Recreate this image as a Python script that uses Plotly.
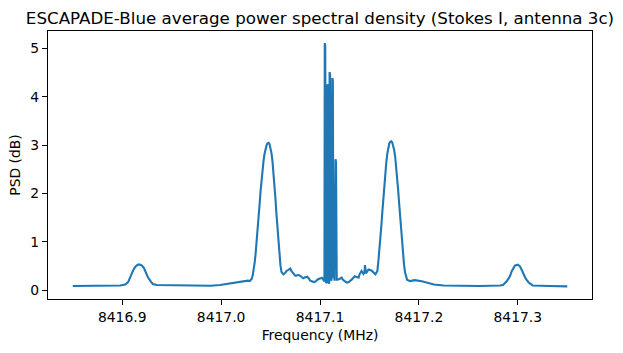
import plotly.graph_objects as go

# Frequency (MHz) and PSD (dB)
freq_mhz = [
    8416.850, 8416.878, 8416.898, 8416.903, 8416.906, 8416.910, 8416.912, 8416.914,
    8416.916, 8416.918, 8416.920, 8416.922, 8416.924, 8416.926, 8416.929, 8416.931,
    8416.935, 8416.948, 8416.972, 8416.989, 8416.999, 8417.009, 8417.016, 8417.021,
    8417.024, 8417.027, 8417.029, 8417.031, 8417.032, 8417.033, 8417.034, 8417.035,
    8417.036, 8417.037, 8417.038, 8417.039, 8417.040, 8417.041, 8417.042, 8417.043,
    8417.044, 8417.045, 8417.046, 8417.047, 8417.048, 8417.049, 8417.050, 8417.051,
    8417.052, 8417.053, 8417.054, 8417.055, 8417.056, 8417.057, 8417.058, 8417.059,
    8417.060, 8417.061, 8417.063, 8417.065,
    8417.066, 8417.068, 8417.070, 8417.071, 8417.073, 8417.075, 8417.076, 8417.078,
    8417.080, 8417.083, 8417.085, 8417.087, 8417.089, 8417.090, 8417.094, 8417.096,
    8417.098, 8417.102, 8417.104,
    8417.1045, 8417.1048, 8417.1053, 8417.1060, 8417.1070, 8417.1075, 8417.1080,
    8417.1087, 8417.1093, 8417.1097, 8417.1102, 8417.1110, 8417.1116, 8417.1125,
    8417.1130, 8417.1136, 8417.1140, 8417.1146, 8417.1157, 8417.1162, 8417.1169,
    8417.118, 8417.122, 8417.123, 8417.125, 8417.127, 8417.129, 8417.132, 8417.135,
    8417.139, 8417.140, 8417.142, 8417.144, 8417.145, 8417.1455, 8417.1465, 8417.149,
    8417.152, 8417.156, 8417.158, 8417.159, 8417.160, 8417.161, 8417.162, 8417.163,
    8417.164, 8417.165, 8417.166, 8417.167, 8417.168, 8417.169, 8417.170, 8417.171,
    8417.172, 8417.173, 8417.174, 8417.175, 8417.176, 8417.177, 8417.178, 8417.179,
    8417.180, 8417.181, 8417.182, 8417.183, 8417.184, 8417.185, 8417.186, 8417.187,
    8417.188, 8417.191, 8417.193, 8417.196,
    8417.204, 8417.215, 8417.225, 8417.242, 8417.262, 8417.282, 8417.285, 8417.289,
    8417.292, 8417.294, 8417.296, 8417.297, 8417.300, 8417.302, 8417.304, 8417.306,
    8417.308, 8417.311, 8417.313, 8417.315, 8417.332, 8417.350,
]
psd_db = [
    0.09, 0.09, 0.10, 0.12, 0.17, 0.36, 0.45, 0.50,
    0.53, 0.53, 0.51, 0.46, 0.37, 0.27, 0.18, 0.13,
    0.11, 0.105, 0.09, 0.095, 0.11, 0.14, 0.17, 0.19,
    0.20, 0.20, 0.19, 0.24, 0.31, 0.42, 0.58, 0.78,
    1.00, 1.25, 1.52, 1.80, 2.07, 2.31, 2.52, 2.69,
    2.83, 2.93, 3.00, 3.04, 3.05, 3.02, 2.95, 2.83,
    2.66, 2.44, 2.17, 1.88, 1.57, 1.27, 0.98, 0.72,
    0.52, 0.38, 0.33, 0.36,
    0.40, 0.42, 0.45, 0.40, 0.34, 0.30, 0.30, 0.32,
    0.30, 0.25, 0.27, 0.28, 0.24, 0.20, 0.17, 0.19,
    0.23, 0.26, 0.20,
    0.20, 5.11, 5.06, 0.15, 0.18, 4.26, 4.20,
    0.14, 0.15, 4.51, 4.46, 0.20, 0.22, 4.39,
    4.33, 0.25, 0.87, 0.20, 2.71, 2.65, 0.22,
    0.22, 0.26, 0.22, 0.19, 0.16, 0.17, 0.22, 0.29,
    0.26, 0.33, 0.40, 0.34, 0.38, 0.52, 0.35, 0.43,
    0.41, 0.33, 0.40, 0.60, 0.80, 1.04, 1.32, 1.61,
    1.90, 2.18, 2.43, 2.64, 2.82, 2.95, 3.03, 3.07,
    3.08, 3.06, 3.00, 2.90, 2.76, 2.57, 2.34, 2.08,
    1.80, 1.51, 1.23, 0.96, 0.72, 0.52, 0.37, 0.27,
    0.22, 0.19, 0.20, 0.21,
    0.18, 0.12, 0.10, 0.09, 0.09, 0.10, 0.11, 0.19,
    0.29, 0.40, 0.47, 0.51, 0.53, 0.50, 0.42, 0.33,
    0.24, 0.16, 0.12, 0.10, 0.09, 0.08,
]

x_tick_vals = [8416.9, 8417.0, 8417.1, 8417.2, 8417.3]
x_tick_text = ["8416.9", "8417.0", "8417.1", "8417.2", "8417.3"]
y_tick_vals = [0, 1, 2, 3, 4, 5]

FONT = "DejaVu Sans"

fig = go.Figure()
fig.add_trace(go.Scatter(
    x=freq_mhz, y=psd_db, mode="lines",
    line=dict(color="#1f77b4", width=2.1),
    showlegend=False,
))

axis_common = dict(
    showline=True, mirror=True, linecolor="black", linewidth=1.1,
    ticks="outside", ticklen=5, tickwidth=1.1, tickcolor="black",
    showgrid=False, zeroline=False,
    tickfont=dict(family=FONT, size=13.9, color="black"),
)

fig.update_layout(
    width=623, height=353,
    margin=dict(l=48, r=31, t=31, b=54),
    paper_bgcolor="white", plot_bgcolor="white",
    title=dict(
        text="ESCAPADE-Blue average power spectral density (Stokes I, antenna 3c)",
        font=dict(family=FONT, size=16.7, color="black"),
        x=0.5, xref="paper", xanchor="center",
        y=1, yref="paper", yanchor="bottom", pad=dict(b=7),
    ),
    xaxis=dict(
        range=[8416.825, 8417.375],
        tickvals=x_tick_vals, ticktext=x_tick_text,
        title=dict(text="Frequency (MHz)", font=dict(family=FONT, size=13.9, color="black"), standoff=6),
        **axis_common,
    ),
    yaxis=dict(
        range=[-0.18, 5.36],
        tickvals=y_tick_vals,
        title=dict(text="PSD (dB)", font=dict(family=FONT, size=13.9, color="black"), standoff=6),
        **axis_common,
    ),
)

fig.write_html("out.html")
